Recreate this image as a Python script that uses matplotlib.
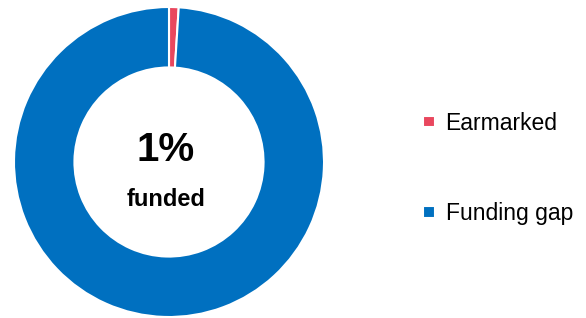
import matplotlib.pyplot as plt

labels = ['Earmarked', 'Funding gap']
values = [1, 99]
colors = ['#E9475E', '#0070C0']
center_big = '1%'
center_small = 'funded'

plt.rcParams['font.family'] = ['Liberation Sans', 'DejaVu Sans']

fig = plt.figure(figsize=(5.86, 3.18), dpi=100)
ax = fig.add_axes([14 / 586, 1 / 318, 310 / 586, 310 / 318])

wedges, _ = ax.pie(values, colors=colors, startangle=90, counterclock=False,
                   radius=1, wedgeprops=dict(width=0.39, edgecolor='white', linewidth=1.5))
ax.set_xlim(-1, 1)
ax.set_ylim(-1, 1)
ax.set_aspect('equal')

ax.text(-0.02, 0.08, center_big, ha='center', va='center', fontsize=29, fontweight='bold')
ax.text(-0.02, -0.24, center_small, ha='center', va='center', fontsize=17, fontweight='bold')

fig.legend(wedges, labels, loc='center left', bbox_to_anchor=(402 / 586, 0.47),
           frameon=False, fontsize=16.5, labelspacing=2.95,
           handlelength=0.55, handleheight=0.4, handletextpad=0.45)

fig.savefig('out.png', dpi=100)
